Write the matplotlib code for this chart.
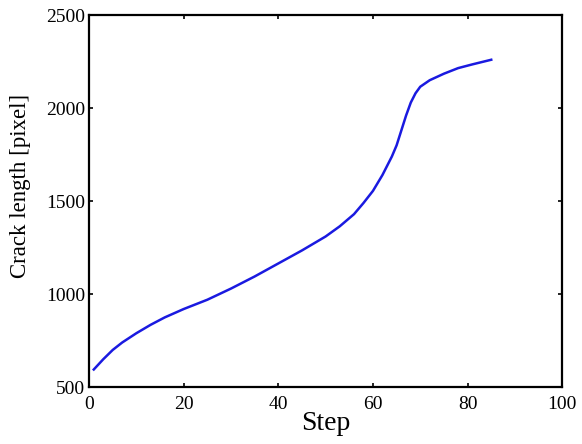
import matplotlib.pyplot as plt

# crack length per step
steps = [1, 3, 5, 7, 10, 13, 16, 20, 25, 30, 35, 40, 45, 50, 53, 56, 58, 60,
         62, 64, 65, 66, 67, 68, 69, 70, 72, 75, 78, 81, 85]
crack_length = [595, 650, 700, 740, 790, 835, 875, 920, 970, 1030, 1095, 1165,
                1235, 1310, 1365, 1430, 1490, 1555, 1640, 1740, 1800, 1880,
                1960, 2030, 2080, 2115, 2150, 2185, 2215, 2235, 2260]

xticks = [0, 20, 40, 60, 80, 100]
yticks = [500, 1000, 1500, 2000, 2500]

plt.rcParams['font.family'] = ['Liberation Serif', 'DejaVu Serif']

fig = plt.figure(figsize=(5.82, 4.44), dpi=100)
ax = fig.add_axes([0.153, 0.128, 0.813, 0.838])

ax.plot(steps, crack_length, color='#1a1ae0', linewidth=1.8)

ax.set_xlim(0, 100)
ax.set_ylim(500, 2500)
ax.set_xticks(xticks)
ax.set_yticks(yticks)
ax.tick_params(direction='in', length=3, width=1.2, top=True, right=True,
               labelsize=14)
ax.tick_params(axis='x', pad=6)
ax.tick_params(axis='y', pad=3)
for s in ax.spines.values():
    s.set_linewidth(1.6)

ax.set_xlabel('Step', fontsize=20)
ax.xaxis.set_label_coords(0.5, -0.063)
ax.set_ylabel('Crack length [pixel]', fontsize=16.5)
ax.yaxis.set_label_coords(-0.123, 0.54)

fig.savefig('out.png', dpi=100)
